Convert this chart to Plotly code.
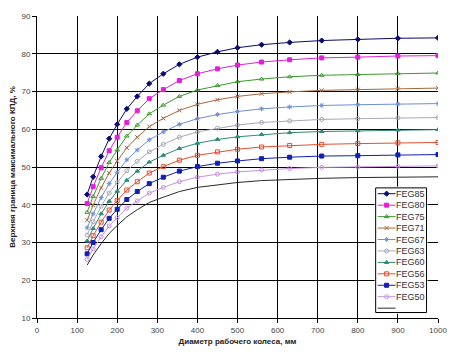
import plotly.graph_objects as go

# Impeller diameters (mm)
diam = [125, 140, 160, 180, 200, 224, 250, 280, 315, 355, 400, 450, 500, 560, 630, 710, 800, 900, 1000]

feg85 = [42.7, 47.4, 52.8, 57.5, 61.3, 65.4, 68.7, 72.1, 74.7, 77.2, 79.1, 80.5, 81.6, 82.4, 83.0, 83.5, 83.8, 84.1, 84.2]
feg80 = [40.3, 44.8, 49.8, 54.3, 57.9, 61.8, 64.9, 68.1, 70.5, 72.9, 74.7, 76.0, 77.0, 77.8, 78.4, 78.9, 79.1, 79.4, 79.5]
feg75 = [38.0, 42.2, 47.0, 51.2, 54.5, 58.2, 61.1, 64.1, 66.4, 68.7, 70.4, 71.6, 72.6, 73.3, 73.9, 74.3, 74.5, 74.8, 74.9]
feg71 = [35.9, 39.9, 44.5, 48.4, 51.6, 55.1, 57.9, 60.7, 62.9, 65.0, 66.6, 67.8, 68.7, 69.4, 69.9, 70.3, 70.5, 70.8, 70.9]
feg67 = [33.9, 37.6, 41.9, 45.6, 48.6, 51.9, 54.5, 57.2, 59.3, 61.3, 62.8, 63.9, 64.7, 65.4, 65.9, 66.3, 66.5, 66.7, 66.8]
feg63 = [32.0, 35.5, 39.6, 43.1, 45.9, 49.0, 51.5, 54.0, 56.0, 57.9, 59.3, 60.3, 61.1, 61.8, 62.2, 62.6, 62.8, 63.0, 63.1]
feg60 = [30.4, 33.7, 37.6, 40.9, 43.6, 46.5, 48.9, 51.3, 53.1, 54.9, 56.3, 57.3, 58.0, 58.6, 59.1, 59.4, 59.6, 59.8, 59.9]
feg56 = [28.6, 31.8, 35.4, 38.6, 41.1, 43.9, 46.1, 48.4, 50.1, 51.8, 53.1, 54.0, 54.7, 55.3, 55.7, 56.0, 56.2, 56.4, 56.5]
feg53 = [27.0, 30.0, 33.4, 36.4, 38.8, 41.4, 43.5, 45.6, 47.3, 48.9, 50.1, 51.0, 51.6, 52.2, 52.6, 52.9, 53.0, 53.2, 53.3]
feg50 = [25.5, 28.3, 31.5, 34.4, 36.6, 39.1, 41.0, 43.1, 44.6, 46.1, 47.3, 48.1, 48.7, 49.2, 49.6, 49.9, 50.0, 50.2, 50.3]
unnamed = [24.0, 26.7, 29.7, 32.4, 34.5, 36.8, 38.7, 40.6, 42.0, 43.5, 44.6, 45.3, 45.9, 46.4, 46.7, 47.0, 47.2, 47.3, 47.4]

names = ["FEG85", "FEG80", "FEG75", "FEG71", "FEG67", "FEG63", "FEG60", "FEG56", "FEG53", "FEG50", ""]
series = [feg85, feg80, feg75, feg71, feg67, feg63, feg60, feg56, feg53, feg50, unnamed]
colors = ["#0A0A70", "#E020D8", "#3C9A2E", "#A8683A", "#6F8FD8", "#A8A8B8",
          "#2E8B78", "#E05030", "#1020B0", "#C890E0", "#2A2A2A"]
symbols = ["diamond", "square", "triangle-up-open", "x-thin", "asterisk", "circle-open",
           "triangle-up", "square-open", "square", "circle-open", None]

x_ticks = list(range(0, 1001, 100))
y_ticks = list(range(10, 91, 10))

fig = go.Figure()

for name, ys, col, sym in zip(names, series, colors, symbols):
    if sym is None:
        fig.add_trace(go.Scatter(x=diam, y=ys, mode="lines", line=dict(color=col, width=1),
                                 showlegend=False, name=name or "unnamed"))
    else:
        fig.add_trace(go.Scatter(x=diam, y=ys, mode="lines+markers", line=dict(color=col, width=1),
                                 marker=dict(symbol=sym, size=4, color=col,
                                             line=dict(color=col, width=1)),
                                 showlegend=False, name=name))

# custom legend (inset axes)
fig.add_trace(go.Scatter(x=[0, 1, 1, 0, 0], y=[0, 0, 1, 1, 0], xaxis="x2", yaxis="y2",
                         mode="lines", fill="toself", fillcolor="white",
                         line=dict(color="black", width=1), showlegend=False, hoverinfo="skip"))
box_h = 126.0
for i, (name, col, sym) in enumerate(zip(names, colors, symbols)):
    yy = 1 - (5.9 + 11.57 * i) / box_h
    fig.add_trace(go.Scatter(x=[0.04, 0.39], y=[yy, yy], xaxis="x2", yaxis="y2", mode="lines",
                             line=dict(color=col, width=1), showlegend=False, hoverinfo="skip"))
    if sym is not None:
        fig.add_trace(go.Scatter(x=[0.215], y=[yy], xaxis="x2", yaxis="y2", mode="markers",
                                 marker=dict(symbol=sym, size=4, color=col, line=dict(color=col, width=1)),
                                 showlegend=False, hoverinfo="skip"))
    if name:
        fig.add_annotation(x=0.36, y=yy, xref="x2", yref="y2", text=name, showarrow=False,
                           xanchor="left", yanchor="middle",
                           font=dict(family="Liberation Sans, Arial", size=9, color="#333333"))

fig.update_layout(
    width=451, height=350,
    margin=dict(l=29, r=21, t=7.5, b=40),
    paper_bgcolor="white", plot_bgcolor="white",
    showlegend=False,
    font=dict(family="Liberation Sans, Arial", size=8, color="#444444"),
    xaxis=dict(range=[0, 1000], tickvals=x_ticks, showgrid=True, gridcolor="black", gridwidth=1,
               showline=True, linecolor="black", linewidth=1, ticks="outside", ticklen=4,
               tickcolor="black", zeroline=False, tickfont=dict(size=8, color="#444444"),
               automargin=False,
               title=dict(text="<b>Диаметр рабочего колеса, мм</b>", standoff=4,
                          font=dict(size=8, color="#222222"))),
    yaxis=dict(range=[10, 90], tickvals=y_ticks, showgrid=True, gridcolor="black", gridwidth=1,
               showline=True, linecolor="black", linewidth=1, ticks="outside", ticklen=4,
               tickcolor="black", zeroline=False, tickfont=dict(size=8, color="#444444"),
               automargin=False,
               title=dict(text="<b>Верхняя граница максимального КПД, %</b>", standoff=6,
                          font=dict(size=8, color="#222222"))),
    xaxis2=dict(domain=[0.842, 0.974], anchor="y2", range=[-0.02, 1.02], visible=False),
    yaxis2=dict(domain=[0.014, 0.435], anchor="x2", range=[-0.01, 1.01], visible=False),
)

fig.write_html("out.html")
